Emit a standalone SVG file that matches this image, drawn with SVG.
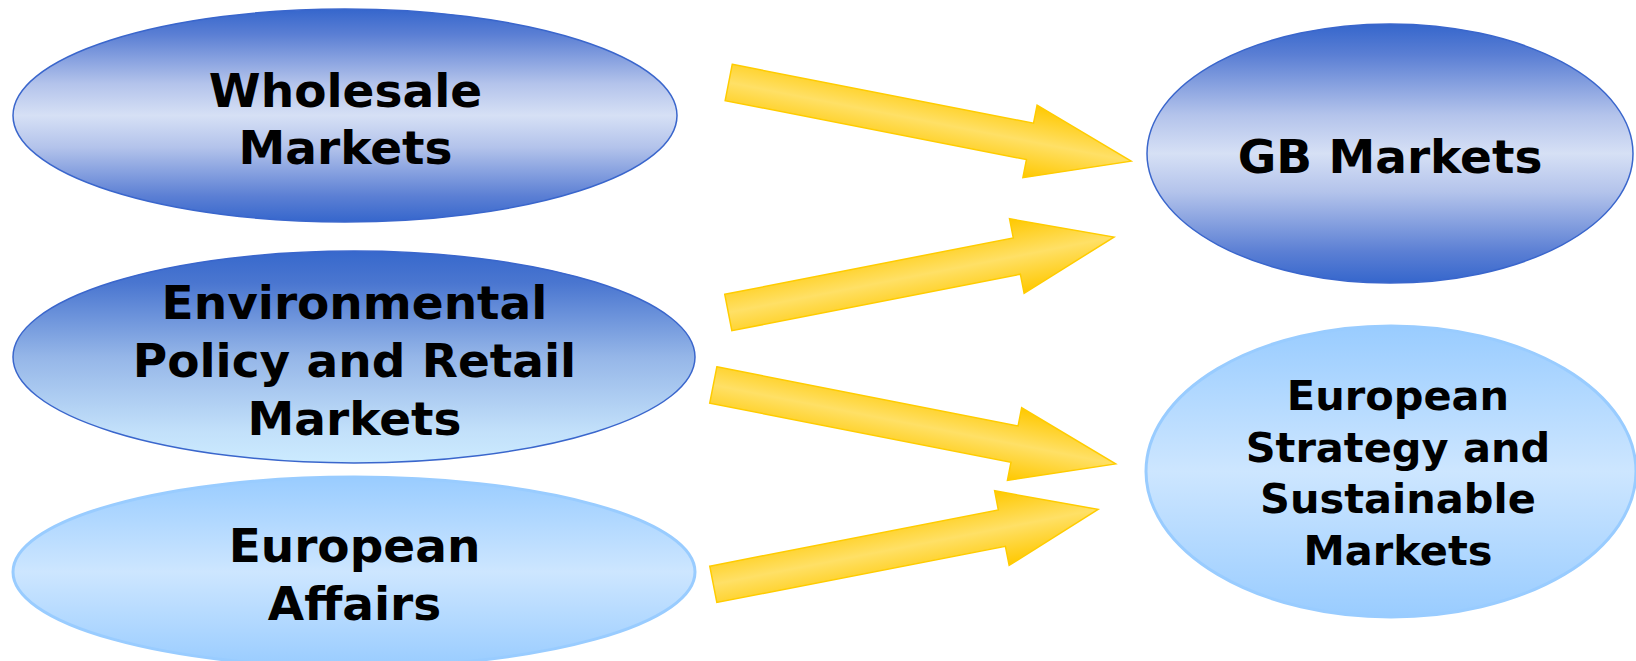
<svg xmlns="http://www.w3.org/2000/svg" width="1636" height="661" viewBox="0 0 1636 661">
  <defs>
    <linearGradient id="gDark" x1="0" y1="0" x2="0" y2="1">
      <stop offset="0" stop-color="#3566CC"/>
      <stop offset="0.12" stop-color="#5B7FD4"/>
      <stop offset="0.35" stop-color="#B3C3EB"/>
      <stop offset="0.5" stop-color="#D6E0F5"/>
      <stop offset="0.65" stop-color="#B3C3EB"/>
      <stop offset="0.88" stop-color="#5B7FD4"/>
      <stop offset="1" stop-color="#3566CC"/>
    </linearGradient>
    <linearGradient id="gEnv" x1="0" y1="0" x2="0" y2="1">
      <stop offset="0" stop-color="#3768CC"/>
      <stop offset="0.15" stop-color="#4A76D0"/>
      <stop offset="0.5" stop-color="#95B6E8"/>
      <stop offset="0.85" stop-color="#C2E0FA"/>
      <stop offset="1" stop-color="#CCEBFF"/>
    </linearGradient>
    <linearGradient id="gLight" x1="0" y1="0" x2="0" y2="1">
      <stop offset="0" stop-color="#99CCFF"/>
      <stop offset="0.5" stop-color="#CDE6FF"/>
      <stop offset="1" stop-color="#99CCFF"/>
    </linearGradient>
    <linearGradient id="gArrow" x1="0" y1="0" x2="0" y2="1">
      <stop offset="0" stop-color="#FFC800"/>
      <stop offset="0.5" stop-color="#FFE066"/>
      <stop offset="1" stop-color="#FFC800"/>
    </linearGradient>
    <style>
      .dark { fill: url(#gDark); stroke: #3A66CC; stroke-width: 1.5; }
      .env { fill: url(#gEnv); stroke: #3A66CC; stroke-width: 1.5; }
      .light { fill: url(#gLight); stroke: #99CCFF; stroke-width: 3; }
      .lbl { font-family: "DejaVu Sans", Verdana, sans-serif; font-weight: bold; font-size: 47px; fill: #000; text-anchor: middle; }
      .lbl2 { font-family: "DejaVu Sans", Verdana, sans-serif; font-weight: bold; font-size: 41.5px; fill: #000; text-anchor: middle; }
      .arrow { fill: url(#gArrow); stroke: #FFCC00; stroke-width: 1.5; stroke-linejoin: miter; }
    </style>
  </defs>

  <g id="wholesale">
    <ellipse class="dark" cx="345" cy="115.5" rx="332" ry="106.5"/>
    <text class="lbl" x="345.5" y="107">Wholesale</text>
    <text class="lbl" x="345.5" y="164">Markets</text>
  </g>

  <g id="environmental">
    <ellipse class="env" cx="354" cy="357" rx="341" ry="106"/>
    <text class="lbl" x="354.5" y="319">Environmental</text>
    <text class="lbl" x="354.5" y="377">Policy and Retail</text>
    <text class="lbl" x="354.5" y="435">Markets</text>
  </g>

  <g id="european-affairs">
    <ellipse class="light" cx="354" cy="572" rx="341" ry="95"/>
    <text class="lbl" x="354.5" y="562">European</text>
    <text class="lbl" x="354.5" y="620">Affairs</text>
  </g>

  <g id="gb-markets">
    <ellipse class="dark" cx="1390" cy="153.5" rx="243" ry="129.5"/>
    <text class="lbl" x="1390" y="173">GB Markets</text>
  </g>

  <g id="european-strategy">
    <ellipse class="light" cx="1391" cy="471.5" rx="245" ry="145.5"/>
    <text class="lbl2" x="1398" y="410">European</text>
    <text class="lbl2" x="1398" y="462">Strategy and</text>
    <text class="lbl2" x="1398" y="513">Sustainable</text>
    <text class="lbl2" x="1398" y="565">Markets</text>
  </g>

  <g id="connectors">
    <polygon class="arrow" transform="translate(728.7,82.5) rotate(11.06)" points="0,-18.5 307,-18.5 307,-37 410,0 307,37 307,18.5 0,18.5"/>
    <polygon class="arrow" transform="translate(728.3,312.5) rotate(-11.07)" points="0,-18.5 294,-18.5 294,-38 393,0 294,38 294,18.5 0,18.5"/>
    <polygon class="arrow" transform="translate(713.3,385) rotate(11.1)" points="0,-18.5 307,-18.5 307,-37 410,0 307,37 307,18.5 0,18.5"/>
    <polygon class="arrow" transform="translate(713.3,584.3) rotate(-11.02)" points="0,-18.5 294,-18.5 294,-38 392,0 294,38 294,18.5 0,18.5"/>
  </g>
</svg>
